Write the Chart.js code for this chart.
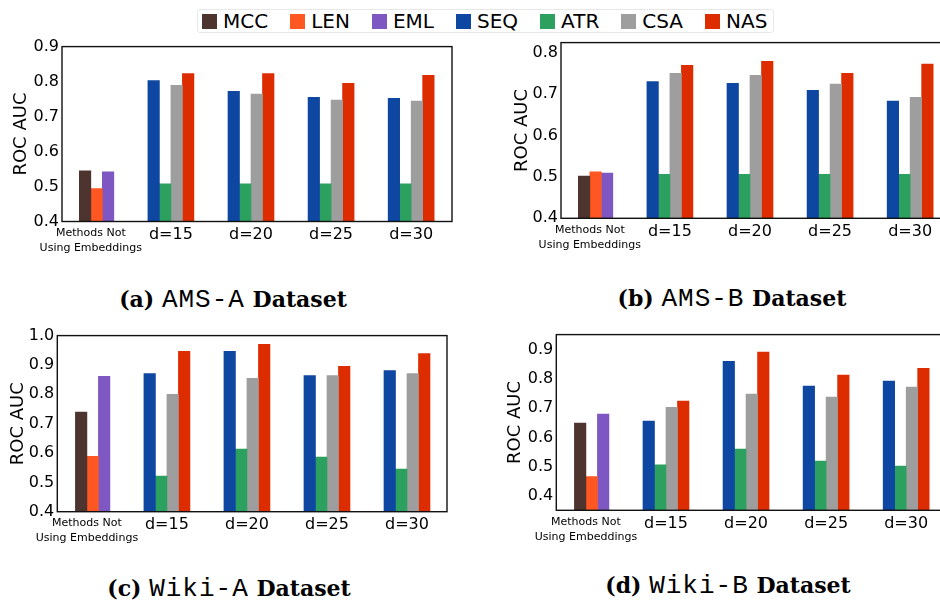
<!DOCTYPE html>
<html>
<head>
<meta charset="utf-8">
<script src="https://cdn.jsdelivr.net/npm/chart.js@4.4.1/dist/chart.umd.min.js"></script>
<style>
  html, body { margin: 0; padding: 0; background: #fff; width: 940px; height: 600px; overflow: hidden; }
  canvas { position: absolute; }
  #legend {
    position: absolute; left: 197px; top: 9px; height: 22px; padding: 0 6px 0 4px;
    border: 1px solid #e8e8e8; border-radius: 3px;
    display: flex; align-items: center; gap: 22px;
    font: 20px/22px 'DejaVu Sans', sans-serif; color: #000;
  }
  #legend .item { display: flex; align-items: center; }
  #legend .box { width: 15px; height: 15px; margin-right: 6px; }
  .caption {
    position: absolute; width: 400px; text-align: center; white-space: pre;
    font: bold 22px 'DejaVu Serif', serif; color: #000;
  }
  .caption .tt { font: 26px 'Liberation Mono', monospace; font-weight: normal; letter-spacing: 1px; }
</style>
</head>
<body>
<div id="legend"></div>
<canvas id="amsA"></canvas>
<canvas id="amsB"></canvas>
<canvas id="wikiA"></canvas>
<canvas id="wikiB"></canvas>
<div class="caption" style="left:33px; top:285px">(a) <span class="tt">AMS-A</span> Dataset</div>
<div class="caption" style="left:532px; top:284px">(b) <span class="tt">AMS-B</span> Dataset</div>
<div class="caption" style="left:29px; top:574px">(c) <span class="tt">Wiki-A</span> Dataset</div>
<div class="caption" style="left:528px; top:571px">(d) <span class="tt">Wiki-B</span> Dataset</div>

<script>
// ---- data ----
const categories = [['Methods Not', 'Using Embeddings'], 'd=15', 'd=20', 'd=25', 'd=30'];
const seriesNames = ['MCC', 'LEN', 'EML', 'SEQ', 'ATR', 'CSA', 'NAS'];
const seriesColors = ['#4e342e', '#ff5722', '#7e57c2', '#0d47a1', '#2ca05e', '#9e9e9e', '#dd2c00'];

// rows follow seriesNames; null where a method has no bar in that group
const amsA = [
  [0.545, null, null, null, null],
  [0.494, null, null, null, null],
  [0.542, null, null, null, null],
  [null, 0.803, 0.772, 0.755, 0.752],
  [null, 0.508, 0.508, 0.508, 0.508],
  [null, 0.789, 0.764, 0.747, 0.744],
  [null, 0.823, 0.823, 0.795, 0.818],
];
const amsB = [
  [0.502, null, null, null, null],
  [0.512, null, null, null, null],
  [0.509, null, null, null, null],
  [null, 0.730, 0.726, 0.709, 0.683],
  [null, 0.506, 0.506, 0.506, 0.506],
  [null, 0.750, 0.745, 0.724, 0.692],
  [null, 0.769, 0.779, 0.750, 0.772],
];
const wikiA = [
  [0.739, null, null, null, null],
  [0.589, null, null, null, null],
  [0.861, null, null, null, null],
  [null, 0.871, 0.946, 0.864, 0.881],
  [null, 0.521, 0.613, 0.586, 0.545],
  [null, 0.800, 0.854, 0.864, 0.871],
  [null, 0.946, 0.970, 0.895, 0.939],
];
const wikiB = [
  [0.649, null, null, null, null],
  [0.466, null, null, null, null],
  [0.680, null, null, null, null],
  [null, 0.656, 0.860, 0.775, 0.792],
  [null, 0.506, 0.560, 0.519, 0.502],
  [null, 0.703, 0.748, 0.738, 0.772],
  [null, 0.724, 0.891, 0.813, 0.836],
];

const ticksAmsA = [0.4, 0.5, 0.6, 0.7, 0.8, 0.9];
const ticksAmsB = [0.4, 0.5, 0.6, 0.7, 0.8];
const ticksWikiA = [0.4, 0.5, 0.6, 0.7, 0.8, 0.9, 1.0];
const ticksWikiB = [0.4, 0.5, 0.6, 0.7, 0.8, 0.9];

// ---- legend ----
const legend = document.getElementById('legend');
seriesNames.forEach((name, i) => {
  const item = document.createElement('div');
  item.className = 'item';
  item.innerHTML = `<span class="box" style="background:${seriesColors[i]}"></span><span>${name}</span>`;
  legend.appendChild(item);
});

// ---- charts ----
Chart.defaults.font.family = "'DejaVu Sans', sans-serif";
Chart.defaults.color = '#000';

// each group has four slots: SEQ | MCC/ATR | LEN/CSA | EML/NAS
const slotOf = { SEQ: 's0', MCC: 's1', ATR: 's1', LEN: 's2', CSA: 's2', EML: 's3', NAS: 's3' };
const drawOrder = ['SEQ', 'MCC', 'LEN', 'EML', 'ATR', 'CSA', 'NAS'];

const frame = {
  id: 'frame',
  afterDatasetsDraw(chart) {
    const { ctx, chartArea: a } = chart;
    ctx.save();
    ctx.strokeStyle = '#111';
    ctx.lineWidth = 1.4;
    ctx.strokeRect(a.left, a.top, a.right - a.left, a.bottom - a.top);
    ctx.restore();
  }
};

function makePanel(id, rows, yTicks, yRange, xRange, box) {
  // box: plot area [left, top, right, bottom] on the page, plus y title centre
  const [L, T, R, B] = box.plot;
  const cl = Math.round(box.titleX - 21.8);
  const ct = Math.round(T - 12);
  const W = Math.ceil(R - cl + 4);
  const H = 232;
  const yW = L - cl;
  const xH = H - (B - ct);

  const canvas = document.getElementById(id);
  canvas.width = W; canvas.height = H;
  canvas.style.left = cl + 'px'; canvas.style.top = ct + 'px';
  canvas.style.width = W + 'px'; canvas.style.height = H + 'px';

  const datasets = drawOrder.map(name => {
    const i = seriesNames.indexOf(name);
    return {
      label: name,
      data: rows[i],
      stack: slotOf[name],
      backgroundColor: seriesColors[i],
      borderWidth: 0,
      barThickness: 11.5,
    };
  });

  return new Chart(canvas, {
    type: 'bar',
    data: { labels: categories.map((_, i) => i), datasets },
    options: {
      responsive: false,
      animation: false,
      layout: { padding: { top: T - ct, right: W - (R - cl), left: 0, bottom: 0 } },
      plugins: { legend: { display: false }, tooltip: { enabled: false } },
      scales: {
        x: {
          type: 'linear',
          offset: false,
          min: xRange[0], max: xRange[1],
          grid: { display: false, drawTicks: false, offset: false }, border: { display: false },
          afterBuildTicks: s => { s.ticks = categories.map((_, i) => ({ value: i })); },
          afterFit: s => { s.height = xH; },
          ticks: {
            autoSkip: false, maxRotation: 0, padding: 4,
            callback: v => categories[v],
            font: c => c.index === 0 ? { size: 11, lineHeight: 1.36 } : { size: 16 },
          },
        },
        y: {
          min: yRange[0], max: yRange[1],
          grid: { display: false, drawTicks: false }, border: { display: false },
          afterBuildTicks: s => { s.ticks = yTicks.map(v => ({ value: v })); },
          afterFit: s => { s.width = yW; },
          ticks: { padding: 3, font: { size: 16 }, callback: v => v.toFixed(1) },
          title: { display: true, text: 'ROC AUC', font: { size: 18 }, padding: { top: 11, bottom: 0 } },
        },
      },
    },
    plugins: [frame],
  });
}

makePanel('amsA', amsA, ticksAmsA, [0.4, 0.9], [-0.36, 4.51], { plot: [62, 45.5, 452, 221.5], titleX: 22 });
makePanel('amsB', amsB, ticksAmsB, [0.4, 0.824], [-0.36, 4.51], { plot: [561, 42.3, 951, 218.3], titleX: 522.5 });
makePanel('wikiA', wikiA, ticksWikiA, [0.4, 1.0], [-0.37, 4.5], { plot: [57.3, 335, 447, 511.7], titleX: 18.3 });
makePanel('wikiB', wikiB, ticksWikiB, [0.351, 0.951], [-0.37, 4.51], { plot: [556.3, 334.3, 947, 510.3], titleX: 516 });
</script>
</body>
</html>
